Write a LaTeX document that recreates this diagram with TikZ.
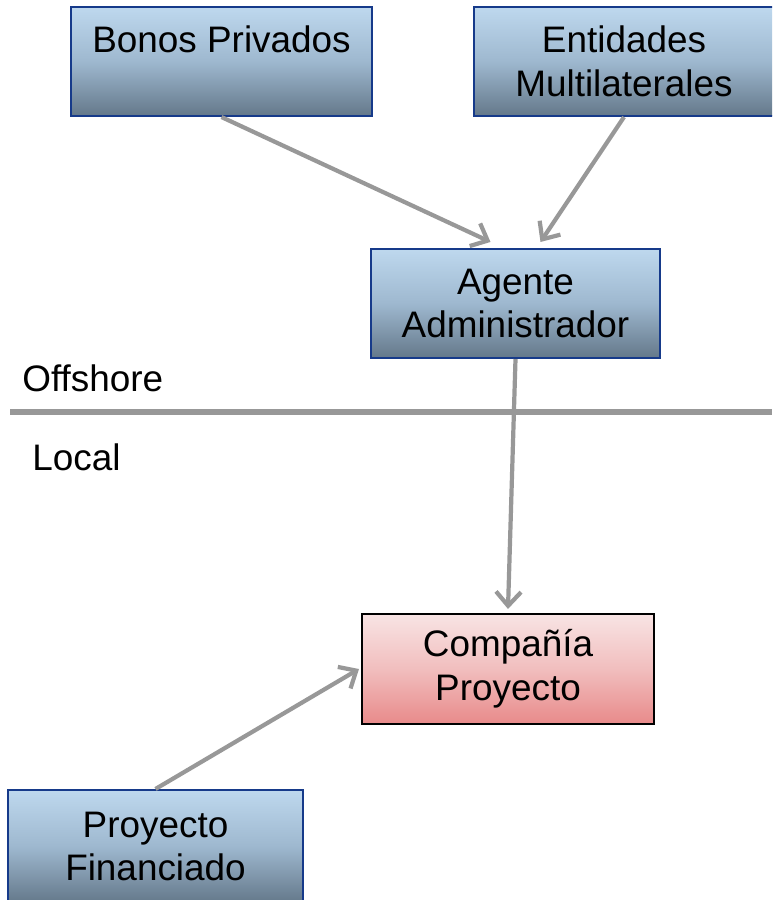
\documentclass[tikz,border=0pt]{standalone}
\usepackage{fontspec}
\setmainfont{Liberation Sans}
\usetikzlibrary{arrows.meta}

\definecolor{cajaArriba}{RGB}{190,216,238}
\definecolor{cajaMedio}{RGB}{158,184,207}
\definecolor{cajaAbajo}{RGB}{100,120,138}
\definecolor{bordeAzul}{RGB}{22,58,138}
\definecolor{rosaArriba}{RGB}{248,228,228}
\definecolor{rosaMedio}{RGB}{241,190,190}
\definecolor{rosaAbajo}{RGB}{232,138,138}
\definecolor{grisFlecha}{RGB}{152,152,152}

\tikzset{
	caja/.style={draw=bordeAzul, line width=1.2pt, top color=cajaArriba, bottom color=cajaAbajo, middle color=cajaMedio,
		minimum width=6.02cm, minimum height=2.18cm, inner sep=0pt, align=center, font=\fontsize{21}{25}\selectfont},
	cajarosa/.style={caja, draw=black, top color=rosaArriba, bottom color=rosaAbajo, middle color=rosaMedio},
	flecha/.style={draw=grisFlecha, line width=2.4pt, -{Straight Barb[length=2.8mm, width=5mm]}},
	etiqueta/.style={anchor=west, inner sep=0pt, font=\fontsize{21}{25}\selectfont}
}

\begin{document}
\begin{tikzpicture}[x=0.02cm, y=-0.02cm]
	\useasboundingbox (0,0) rectangle (772,900);
	\clip (0,0) rectangle (772,900);
	
	\node [caja] (bonos) at (221.5, 61.5) {Bonos Privados\\\mbox{}};
	\node [caja, minimum width=6.2cm] (entidades) at (629, 61.5) {\hspace*{-0.2cm}Entidades\\\hspace*{-0.2cm}Multilaterales};
	\node [caja, minimum width=5.78cm] (agente) at (515.5, 303.5) {Agente\\Administrador};
	\node [cajarosa, minimum width=5.84cm, minimum height=2.2cm] (compania) at (508, 669) {Compañía\\Proyecto};
	\node [caja, minimum width=5.9cm, minimum height=2.26cm] (financiado) at (155.5, 846.5) {Proyecto\\Financiado};
	
	% linea offshore / local
	\draw [draw=grisFlecha, line width=3.4pt] (10, 412) -- (772, 412);
	\node [etiqueta] (offshore) at (22, 378) {Offshore};
	\node [etiqueta] (local) at (32, 457) {Local};
	
	\draw [flecha] (bonos.south) -- ([xshift=-0.5cm, yshift=0.12cm]agente.north);
	\draw [flecha] ([xshift=-0.1cm]entidades.south) -- ([xshift=0.5cm, yshift=0.12cm]agente.north);
	\draw [flecha] (agente.south) -- ([yshift=0.08cm]compania.north);
	\draw [flecha] (financiado.north) -- ([xshift=-0.04cm]compania.west);
	
\end{tikzpicture}
\end{document}
